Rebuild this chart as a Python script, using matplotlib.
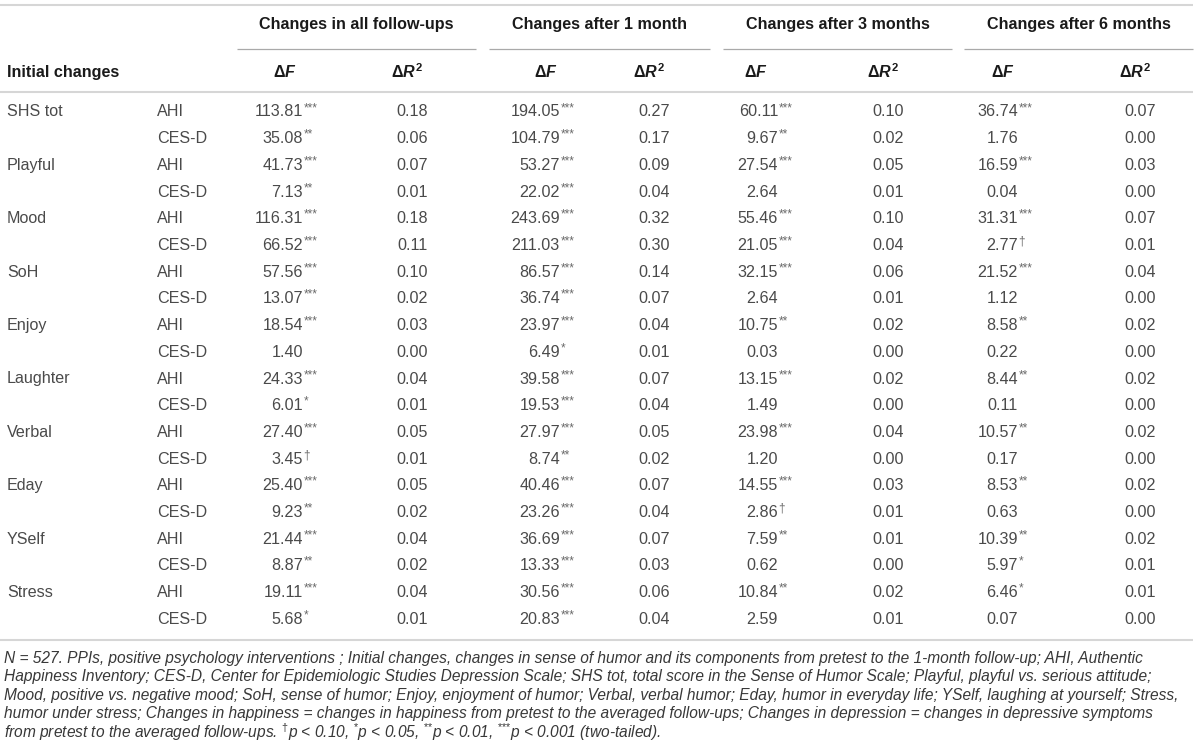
import matplotlib.pyplot as plt

plt.rcParams['font.family'] = ['Liberation Sans', 'DejaVu Sans']
plt.rcParams['mathtext.fontset'] = 'custom'
plt.rcParams['mathtext.rm'] = 'Liberation Sans'
plt.rcParams['mathtext.bf'] = 'Liberation Sans:bold'
plt.rcParams['mathtext.it'] = 'Liberation Sans:bold:italic'

# table content
groups = ["Changes in all follow-ups", "Changes after 1 month",
          "Changes after 3 months", "Changes after 6 months"]
scales = ["SHS tot", "Playful", "Mood", "SoH", "Enjoy",
          "Laughter", "Verbal", "Eday", "YSelf", "Stress"]
outcomes = ["AHI", "CES-D"]

f_all = [113.81, 35.08, 41.73, 7.13, 116.31, 66.52, 57.56, 13.07, 18.54, 1.40,
         24.33, 6.01, 27.40, 3.45, 25.40, 9.23, 21.44, 8.87, 19.11, 5.68]
sig_all = ["***", "**", "***", "**", "***", "***", "***", "***", "***", "",
           "***", "*", "***", "†", "***", "**", "***", "**", "***", "*"]
r2_all = [0.18, 0.06, 0.07, 0.01, 0.18, 0.11, 0.10, 0.02, 0.03, 0.00,
          0.04, 0.01, 0.05, 0.01, 0.05, 0.02, 0.04, 0.02, 0.04, 0.01]

f_1m = [194.05, 104.79, 53.27, 22.02, 243.69, 211.03, 86.57, 36.74, 23.97, 6.49,
        39.58, 19.53, 27.97, 8.74, 40.46, 23.26, 36.69, 13.33, 30.56, 20.83]
sig_1m = ["***", "***", "***", "***", "***", "***", "***", "***", "***", "*",
          "***", "***", "***", "**", "***", "***", "***", "***", "***", "***"]
r2_1m = [0.27, 0.17, 0.09, 0.04, 0.32, 0.30, 0.14, 0.07, 0.04, 0.01,
         0.07, 0.04, 0.05, 0.02, 0.07, 0.04, 0.07, 0.03, 0.06, 0.04]

f_3m = [60.11, 9.67, 27.54, 2.64, 55.46, 21.05, 32.15, 2.64, 10.75, 0.03,
        13.15, 1.49, 23.98, 1.20, 14.55, 2.86, 7.59, 0.62, 10.84, 2.59]
sig_3m = ["***", "**", "***", "", "***", "***", "***", "", "**", "",
          "***", "", "***", "", "***", "†", "**", "", "**", ""]
r2_3m = [0.10, 0.02, 0.05, 0.01, 0.10, 0.04, 0.06, 0.01, 0.02, 0.00,
         0.02, 0.00, 0.04, 0.00, 0.03, 0.01, 0.01, 0.00, 0.02, 0.01]

f_6m = [36.74, 1.76, 16.59, 0.04, 31.31, 2.77, 21.52, 1.12, 8.58, 0.22,
        8.44, 0.11, 10.57, 0.17, 8.53, 0.63, 10.39, 5.97, 6.46, 0.07]
sig_6m = ["***", "", "***", "", "***", "†", "***", "", "**", "",
          "**", "", "**", "", "**", "", "**", "*", "*", ""]
r2_6m = [0.07, 0.00, 0.03, 0.00, 0.07, 0.01, 0.04, 0.00, 0.02, 0.00,
         0.02, 0.00, 0.02, 0.00, 0.02, 0.00, 0.02, 0.01, 0.01, 0.00]

footnote = [
    "N = 527. PPIs, positive psychology interventions ; Initial changes, changes in sense of humor and its components from pretest to the 1-month follow-up; AHI, Authentic",
    "Happiness Inventory; CES-D, Center for Epidemiologic Studies Depression Scale; SHS tot, total score in the Sense of Humor Scale; Playful, playful vs. serious attitude;",
    "Mood, positive vs. negative mood; SoH, sense of humor; Enjoy, enjoyment of humor; Verbal, verbal humor; Eday, humor in everyday life; YSelf, laughing at yourself; Stress,",
    "humor under stress; Changes in happiness = changes in happiness from pretest to the averaged follow-ups; Changes in depression = changes in depressive symptoms",
    r"from pretest to the averaged follow-ups. ${}^{\dagger}$p < 0.10, ${}^{\text{*}}$p < 0.05, ${}^{\text{**}}$p < 0.01, ${}^{\text{***}}$p < 0.001 (two-tailed).",
]

f_cols = [f_all, f_1m, f_3m, f_6m]
sig_cols = [sig_all, sig_1m, sig_3m, sig_6m]
r2_cols = [r2_all, r2_1m, r2_3m, r2_6m]

# layout in pixels
group_spans = [(237, 476), (489, 710), (723, 952), (964, 1193)]
f_end = [303, 560, 778, 1018]
f_head = [285, 546, 756, 1003]
r2_x = [412, 654, 888, 1140]
row_y0, row_dy = 112, 26.7
txt = '#4a4a4a'
fs = 11.6

fig = plt.figure(figsize=(12, 7.55), dpi=100)
ax = fig.add_axes([0, 0, 1, 1])
ax.set_xlim(0, 1200)
ax.set_ylim(755, 0)
ax.axis('off')

# rules
for y in [5, 92, 640]:
    ax.plot([0, 1193], [y, y], color='#d6d6d6', lw=1.5, solid_capstyle='butt')
for (x0, x1) in group_spans:
    ax.plot([x0, x1], [49, 49], color='#a9a9a9', lw=0.9, solid_capstyle='butt')

# headers
for g, (x0, x1) in zip(groups, group_spans):
    ax.text((x0 + x1) / 2, 25, g, ha='center', va='center', fontsize=fs,
            fontweight='bold', color='#1a1a1a')
ax.text(7, 72, "Initial changes", ha='left', va='center', fontsize=fs,
        fontweight='bold', color='#1a1a1a')
for i in range(4):
    ax.text(f_head[i], 72, r'$\mathbf{\Delta}\mathit{F}$', ha='center',
            va='center', fontsize=fs, color='#1a1a1a')
    ax.text(r2_x[i] - 5, 72, r'$\mathbf{\Delta}\mathit{R}^{\mathbf{2}}$',
            ha='center', va='center', fontsize=fs, color='#1a1a1a')

# body
for r in range(20):
    y = row_y0 + r * row_dy
    if r % 2 == 0:
        ax.text(7, y, scales[r // 2], ha='left', va='center', fontsize=fs,
                color=txt)
    ax.text(157, y, outcomes[r % 2], ha='left', va='center', fontsize=fs,
            color=txt)
    for i in range(4):
        ax.text(f_end[i], y, f"{f_cols[i][r]:.2f}", ha='right', va='center',
                fontsize=fs, color=txt)
        if sig_cols[i][r]:
            ax.text(f_end[i] + 0.5, y - 4, sig_cols[i][r], ha='left',
                    va='center', fontsize=8.5, color='#6a6a6a')
        ax.text(r2_x[i], y, f"{r2_cols[i][r]:.2f}", ha='center', va='center',
                fontsize=fs, color=txt)

# notes
for k, line in enumerate(footnote):
    ax.text(4, 658 + k * 18.6, line, ha='left', va='center', fontsize=11.2,
            style='italic', color='#383838')

fig.savefig('out.png', dpi=100)
